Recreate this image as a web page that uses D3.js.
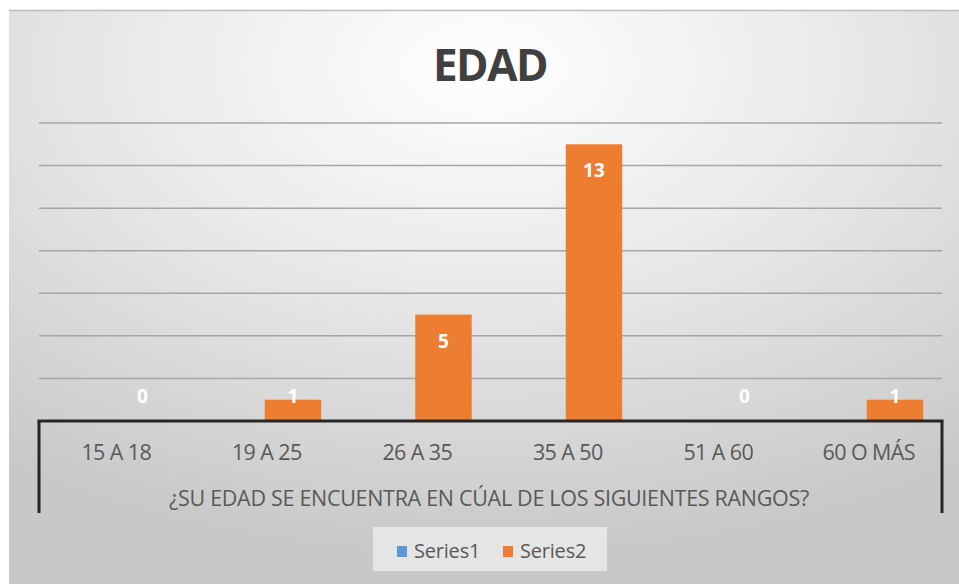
<!DOCTYPE html>
<html>
<head>
<meta charset="utf-8">
<title>EDAD</title>
<script src="https://cdnjs.cloudflare.com/ajax/libs/d3/7.8.5/d3.min.js"></script>
<style>
  body { margin: 0; background: #fff; }
  svg { display: block; }
  text { font-family: "Open Sans", "Liberation Sans", sans-serif; }
</style>
</head>
<body>
<svg id="chart"></svg>
<script>
const WIDTH = 959
const HEIGHT = 584

// data
const categories = ["15 A 18", "19 A 25", "26 A 35", "35 A 50", "51 A 60", "60 O MÁS"]
const series1 = [0, 0, 0, 0, 0, 0]
const series2 = [0, 1, 5, 13, 0, 1]
const seriesNames = ["Series1", "Series2"]
const seriesColors = ["#5B9BD5", "#ED7D31"]
const yTicks = [0, 2, 4, 6, 8, 10, 12, 14]
const axisTitle = "¿SU EDAD SE ENCUENTRA EN CÚAL DE LOS SIGUIENTES RANGOS?"

const MARGIN = { left: 39, right: 17, top: 123, bottom: 163 }

const svg = d3.select("#chart").attr("width", WIDTH).attr("height", HEIGHT)

// background gradient
const defs = svg.append("defs")
const grad = defs.append("radialGradient").attr("id", "bg")
  .attr("cx", "50%").attr("cy", "10%").attr("r", "85%")
grad.append("stop").attr("offset", "0%").attr("stop-color", "#ffffff")
grad.append("stop").attr("offset", "45%").attr("stop-color", "#e9e9e9")
grad.append("stop").attr("offset", "100%").attr("stop-color", "#c8c8c8")

svg.append("rect").attr("x", 9).attr("y", 10)
  .attr("width", WIDTH - 9).attr("height", HEIGHT - 10)
  .attr("fill", "url(#bg)")
svg.append("line").attr("x1", 9).attr("x2", WIDTH).attr("y1", 10.5).attr("y2", 10.5)
  .attr("stroke", "#bdbdbd").attr("stroke-width", 1.5)

// title
svg.append("text").text("EDAD")
  .attr("x", 490).attr("y", 81)
  .attr("text-anchor", "middle")
  .attr("font-size", 44).attr("font-weight", 700)
  .attr("letter-spacing", -1.5)
  .attr("fill", "#404040")

const x0 = d3.scaleBand().domain(categories)
  .range([MARGIN.left, WIDTH - MARGIN.right])
  .paddingInner(0.25).paddingOuter(0.125)
const x1 = d3.scaleBand().domain(seriesNames).range([0, x0.bandwidth()])
const y = d3.scaleLinear().domain([0, 14]).range([HEIGHT - MARGIN.bottom, MARGIN.top])

// gridlines
svg.append("g").selectAll("line").data(yTicks.filter(d => d > 0)).join("line")
  .attr("x1", MARGIN.left).attr("x2", WIDTH - MARGIN.right)
  .attr("y1", d => y(d)).attr("y2", d => y(d))
  .attr("stroke", "#a6a6a6").attr("stroke-width", 1.5)

// bars
const rows = categories.map((c, i) => ({ cat: c, vals: [series1[i], series2[i]] }))
const groups = svg.append("g").selectAll("g").data(rows).join("g")
  .attr("transform", d => `translate(${x0(d.cat)},0)`)
groups.selectAll("rect").data(d => d.vals.map((v, j) => ({ v, s: seriesNames[j], c: seriesColors[j] })))
  .join("rect")
  .attr("x", d => x1(d.s)).attr("width", x1.bandwidth())
  .attr("y", d => y(d.v)).attr("height", d => y(0) - y(d.v))
  .attr("fill", d => d.c)

// data labels (Series2 only)
groups.append("text")
  .text((d, i) => series2[i])
  .attr("x", x1("Series2") + x1.bandwidth() / 2)
  .attr("y", (d, i) => Math.min(y(series2[i]) + 26, y(0) - 25) + 7)
  .attr("text-anchor", "middle")
  .attr("font-size", 19).attr("font-weight", 700)
  .attr("fill", "#ffffff")

// category axis
const axisY = y(0)
svg.append("line").attr("x1", MARGIN.left - 1.5).attr("x2", WIDTH - MARGIN.right + 1.5)
  .attr("y1", axisY).attr("y2", axisY)
  .attr("stroke", "#262626").attr("stroke-width", 3)
svg.append("g").selectAll("line").data([MARGIN.left, WIDTH - MARGIN.right]).join("line")
  .attr("x1", d => d).attr("x2", d => d)
  .attr("y1", axisY).attr("y2", 513)
  .attr("stroke", "#262626").attr("stroke-width", 3)

svg.append("g").selectAll("text").data(categories).join("text")
  .text(d => d)
  .attr("x", d => x0(d) + x0.bandwidth() / 2 + 2)
  .attr("y", 460)
  .attr("text-anchor", "middle")
  .attr("font-size", 21.5).attr("letter-spacing", -0.6)
  .attr("fill", "#595959")

svg.append("text").text(axisTitle)
  .attr("x", 489).attr("y", 506)
  .attr("text-anchor", "middle")
  .attr("font-size", 21.5).attr("letter-spacing", -0.3)
  .attr("fill", "#595959")

// legend
const legend = svg.append("g")
legend.append("rect").attr("x", 373).attr("y", 527).attr("width", 234).attr("height", 44)
  .attr("fill", "#ececec").attr("opacity", 0.8)
const items = legend.selectAll("g").data(seriesNames).join("g")
  .attr("transform", (d, i) => `translate(${397 + i * 106},546)`)
items.append("rect").attr("width", 10).attr("height", 11)
  .attr("fill", (d, i) => seriesColors[i])
items.append("text").text(d => d)
  .attr("x", 17).attr("y", 12)
  .attr("font-size", 20).attr("letter-spacing", -0.2)
  .attr("fill", "#595959")
</script>
</body>
</html>
